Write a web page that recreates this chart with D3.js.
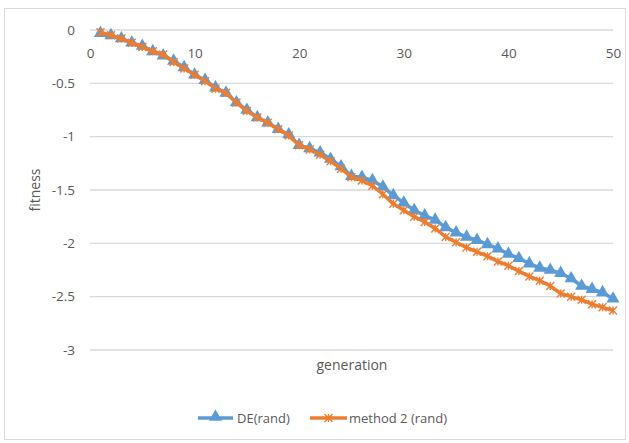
<!DOCTYPE html>
<html><head><meta charset="utf-8">
<script src="https://cdn.jsdelivr.net/npm/d3@7"></script>
<style>body{margin:0;background:#fff;} text{font-family:"Open Sans",sans-serif;}</style>
</head><body>
<svg id="c" width="629" height="443"></svg>
<script>
const generations = d3.range(1, 51);
const deRand = [-0.03,-0.05,-0.08,-0.12,-0.15,-0.20,-0.24,-0.29,-0.35,-0.42,
 -0.47,-0.54,-0.59,-0.68,-0.75,-0.82,-0.87,-0.93,-0.98,-1.08,
 -1.11,-1.15,-1.21,-1.28,-1.37,-1.38,-1.41,-1.47,-1.55,-1.62,
 -1.69,-1.74,-1.78,-1.85,-1.90,-1.94,-1.97,-2.01,-2.05,-2.10,
 -2.14,-2.19,-2.23,-2.25,-2.28,-2.33,-2.40,-2.43,-2.46,-2.52];
const method2 = [-0.02,-0.05,-0.08,-0.12,-0.16,-0.20,-0.23,-0.30,-0.36,-0.42,
 -0.48,-0.55,-0.59,-0.68,-0.76,-0.82,-0.87,-0.93,-0.99,-1.08,
 -1.12,-1.17,-1.23,-1.30,-1.38,-1.41,-1.46,-1.54,-1.63,-1.69,
 -1.75,-1.80,-1.86,-1.94,-1.99,-2.04,-2.08,-2.12,-2.17,-2.21,
 -2.26,-2.31,-2.35,-2.40,-2.47,-2.50,-2.53,-2.57,-2.60,-2.63];
const xTicks = [0,10,20,30,40,50];
const yTicks = [0,-0.5,-1,-1.5,-2,-2.5,-3];
const seriesNames = ["DE(rand)","method 2 (rand)"];
const colors = ["#5B9BD5","#ED7D31"];

const svg = d3.select("#c");
svg.append("rect").attr("x",4.5).attr("y",8.5).attr("width",621).attr("height",431)
  .attr("fill","#fff").attr("stroke","#d9d9d9");

const x = d3.scaleLinear().domain([0,50]).range([90,613]);
const y = d3.scaleLinear().domain([-3,0]).range([350,30]);

svg.append("g").selectAll("line").data(yTicks).join("line")
  .attr("x1",90).attr("x2",613).attr("y1",d=>y(d)).attr("y2",d=>y(d))
  .attr("stroke","#d9d9d9").attr("stroke-width",1.3);

const fmt = d=> d===0 ? "0" : String(d);
const yAxis = svg.append("g").attr("transform","translate(90,0)")
  .call(d3.axisLeft(y).tickValues(yTicks).tickFormat(fmt).tickSize(0).tickPadding(15));
yAxis.select(".domain").remove();
yAxis.selectAll("text").attr("fill","#595959").style("font-size","13.5px").style("font-family","Open Sans");

const xAxis = svg.append("g").attr("transform","translate(0,"+(y(0)+18)+")")
  .call(d3.axisBottom(x).tickValues(xTicks).tickSize(0).tickPadding(0));
xAxis.select(".domain").remove();
xAxis.selectAll("text").attr("fill","#595959").style("font-size","13.5px").style("font-family","Open Sans");

svg.append("text").attr("transform","translate(40,190) rotate(-90)").attr("text-anchor","middle")
  .attr("fill","#595959").style("font-size","14px").text("fitness");
svg.append("text").attr("x",352).attr("y",370).attr("text-anchor","middle")
  .attr("fill","#595959").style("font-size","14px").text("generation");

const line = d3.line().x((d,i)=>x(generations[i])).y(d=>y(d));
const tri = d3.symbol().type(d3.symbolTriangle).size(75);

function drawStar(g, cx, cy, r, col){
  const p = `M${cx-r},${cy-r}L${cx+r},${cy+r}M${cx-r},${cy+r}L${cx+r},${cy-r}M${cx},${cy-r}L${cx},${cy+r}`;
  g.append("path").attr("d",p).attr("stroke",col).attr("stroke-width",1.4).attr("fill","none");
}

svg.append("path").datum(deRand).attr("d",line).attr("fill","none")
  .attr("stroke",colors[0]).attr("stroke-width",3.5).attr("stroke-linejoin","round");
svg.append("g").selectAll("path").data(deRand).join("path")
  .attr("d",tri).attr("transform",(d,i)=>`translate(${x(generations[i])},${y(d)})`)
  .attr("fill",colors[0]);

svg.append("path").datum(method2).attr("d",line).attr("fill","none")
  .attr("stroke",colors[1]).attr("stroke-width",3.5).attr("stroke-linejoin","round");
const sg = svg.append("g");
method2.forEach((d,i)=>drawStar(sg, x(generations[i]), y(d), 4, colors[1]));

const lg = svg.append("g");
lg.append("line").attr("x1",198).attr("x2",233).attr("y1",418).attr("y2",418).attr("stroke",colors[0]).attr("stroke-width",3.5);
lg.append("path").attr("d",tri).attr("transform","translate(215.5,417)").attr("fill",colors[0]);
lg.append("text").attr("x",237).attr("y",423).attr("fill","#595959").style("font-size","13px").text(seriesNames[0]);
lg.append("line").attr("x1",310).attr("x2",347).attr("y1",418).attr("y2",418).attr("stroke",colors[1]).attr("stroke-width",3.5);
drawStar(lg, 328.5, 418, 4, colors[1]);
lg.append("text").attr("x",349).attr("y",423).attr("fill","#595959").style("font-size","13px").text(seriesNames[1]);
</script>
</body></html>
